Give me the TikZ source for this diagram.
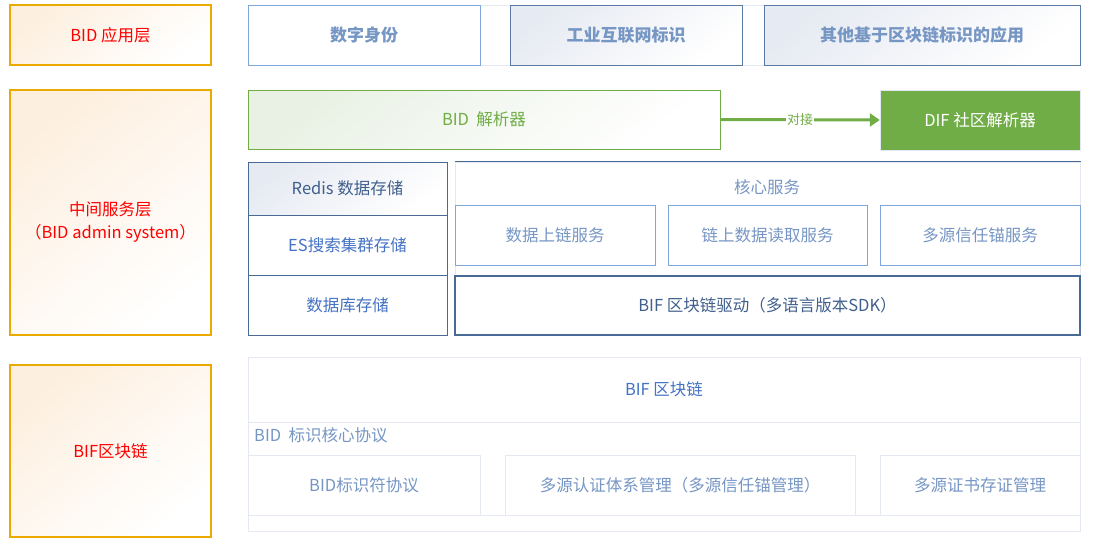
\documentclass[tikz,border=0pt]{standalone}
\usepackage{fontspec}
\setmainfont{Noto Sans CJK SC}
\usepackage{tikz}
\usetikzlibrary{arrows.meta}

\definecolor{layerline}{HTML}{EBAA00}
\definecolor{layertext}{HTML}{FF0000}
\definecolor{applight}{HTML}{7FA7D9}
\definecolor{appdark}{HTML}{5B7BA6}
\definecolor{apptext}{HTML}{7696C4}
\definecolor{resgreen}{HTML}{70AD47}
\definecolor{slate}{HTML}{4A6A96}
\definecolor{slatetext}{HTML}{3F5F8C}
\definecolor{bluetext}{HTML}{4472C4}
\definecolor{paleline}{HTML}{E3E8F3}
\definecolor{orangetint}{HTML}{FDEFDF}
\definecolor{slatetint}{HTML}{E6EAF2}
\definecolor{greentint}{HTML}{E9F1E4}

\begin{document}
\begin{tikzpicture}[x=1pt,y=-1pt,
  every node/.style={font=\fontsize{16.5}{19}\selectfont, inner sep=0pt},
  layer/.style={draw=layerline, line width=1.2pt, text=layertext, align=center,
    top color=orangetint, middle color=white, bottom color=white, shading angle=40},
  appbox/.style={draw=appdark, line width=1pt, text=apptext, font=\fontsize{17}{19}\selectfont\bfseries,
    top color=slatetint, middle color=white, bottom color=white, shading angle=40},
  svcbox/.style={draw=applight, line width=1pt, text=apptext, fill=white},
  storebox/.style={draw=slate, line width=1pt, text=bluetext, fill=white},
  protobox/.style={draw=paleline, line width=1pt, text=apptext, fill=white},
  dock/.style={draw=resgreen, line width=3pt, -{Triangle[length=10pt,width=13pt]}}]
\useasboundingbox (0,0) rectangle (1106,555);
% layers on the left:
\node[layer, minimum width=201, minimum height=60] (lapp) at (110.5,35) {BID 应用层};
\node[layer, minimum width=201, minimum height=245] (lmid) at (110.5,212.5) {};
\node[text=layertext, align=center] (lmidtext) at (110.5,222) {中间服务层\\[4pt]（BID admin system）};
\node[layer, minimum width=201, minimum height=172] (lbif) at (110.5,451) {BIF区块链};
% application layer:
\draw[paleline, line width=1pt] (248,5) rectangle (1080,65);
\node[appbox, draw=applight, shading=axis, top color=white, bottom color=white, minimum width=232, minimum height=60] (idapp) at (364,35) {数字身份};
\node[appbox, minimum width=232, minimum height=60] (iiotapp) at (626,35) {工业互联网标识};
\node[appbox, minimum width=316, minimum height=60] (otherapp) at (922,35) {其他基于区块链标识的应用};
% resolvers:
\node[draw=resgreen, line width=1pt, text=resgreen, top color=greentint, middle color=white, bottom color=white, shading angle=40,
  minimum width=472, minimum height=59] (bidres) at (484,119.5) {BID\ \ 解析器};
\node[draw=paleline, fill=resgreen, text=white, minimum width=200, minimum height=60] (difres) at (980,120) {DIF 社区解析器};
\draw[dock] (bidres.east) -- node[fill=white, text=resgreen, inner sep=1pt, font=\fontsize{13}{15}\selectfont] {对接} (difres.west);
% storage:
\node[storebox, text=slatetext, top color=slatetint, middle color=white, bottom color=white, shading angle=40,
  minimum width=199, minimum height=53] (redis) at (347.5,188.5) {Redis 数据存储};
\node[storebox, minimum width=199, minimum height=60] (es) at (347.5,245) {ES搜索集群存储};
\node[storebox, minimum width=199, minimum height=60] (db) at (347.5,305) {数据库存储};
% core services:
\node[draw=paleline, line width=1pt, minimum width=625, minimum height=113] (core) at (767.5,218.5) {};
\draw[slate, line width=1.2pt] (core.north west) -- (core.north east);
\node[text=apptext] (corelabel) at (767,187) {核心服务};
\node[svcbox, minimum width=200, minimum height=60] (upsvc) at (555,235) {数据上链服务};
\node[svcbox, minimum width=199, minimum height=60] (readsvc) at (767.5,235) {链上数据读取服务};
\node[svcbox, minimum width=200, minimum height=60] (anchorsvc) at (980,235) {多源信任锚服务};
\node[draw=slate, line width=1.2pt, text=slatetext, minimum width=625, minimum height=59] (sdk) at (767.5,305.5) {BIF 区块链驱动（多语言版本SDK）};
% BIF chain:
\node[draw=paleline, line width=1pt, minimum width=832, minimum height=174] (chain) at (664,444) {};
\node[text=bluetext] (chainlabel) at (664,389) {BIF 区块链};
\coordinate (cutw) at (248,422);
\coordinate (cute) at (1080,422);
\draw[paleline, line width=1pt] (cutw) -- (cute);
\node[text=apptext, anchor=west] (protolabel) at (254,435) {BID\ \ 标识核心协议};
\coordinate (basew) at (248,515);
\coordinate (basee) at (1080,515);
\draw[paleline, line width=1pt] (basew) -- (basee);
\node[protobox, minimum width=232, minimum height=60] (bidproto) at (364,485) {BID标识符协议};
\node[protobox, minimum width=350, minimum height=60] (certsys) at (680,485) {多源认证体系管理（多源信任锚管理）};
\node[protobox, minimum width=200, minimum height=60] (certstore) at (980,485) {多源证书存证管理};
\end{tikzpicture}
\end{document}
